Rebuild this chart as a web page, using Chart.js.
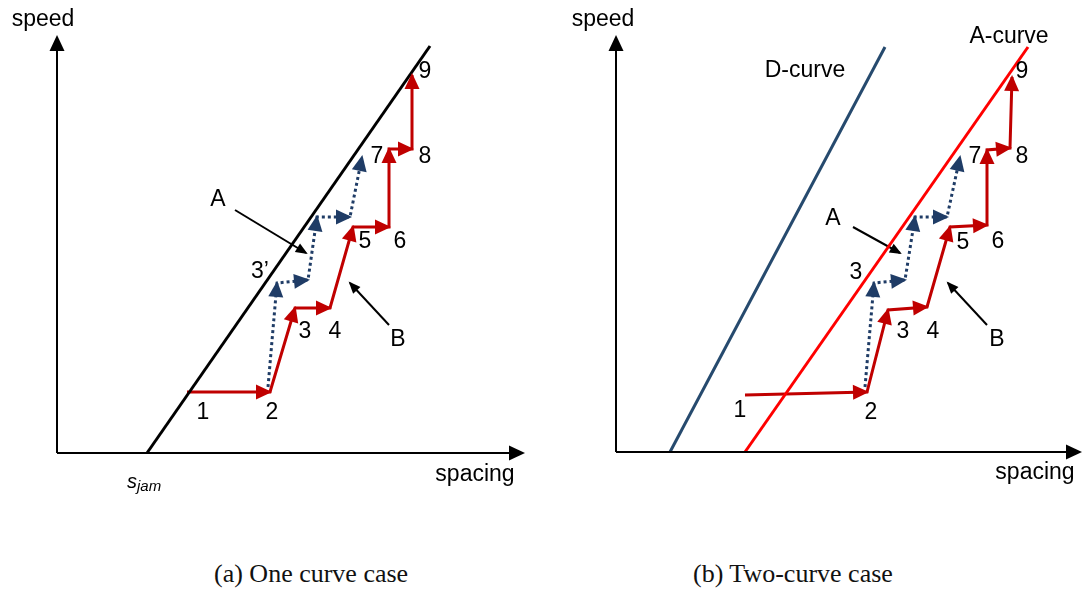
<!DOCTYPE html>
<html>
<head>
<meta charset="utf-8">
<title>Speed / spacing diagrams</title>
<script src="https://cdn.jsdelivr.net/npm/chart.js@4.4.1/dist/chart.umd.min.js"></script>
<style>
    body { margin: 0; background: #fff; }
    .wrap { position: relative; width: 1085px; height: 590px; overflow: hidden; }
    canvas { position: absolute; top: 0; }
    .caption {
        position: absolute; top: 559px; height: 30px; line-height: 30px;
        font-family: "Liberation Serif", "Times New Roman", serif; font-size: 26px; color: #111;
        white-space: nowrap;
    }
</style>
</head>
<body>
<div class="wrap">
    <canvas id="oneCurve" width="542" height="520" style="left:0"></canvas>
    <canvas id="twoCurve" width="543" height="520" style="left:542px"></canvas>
    <div class="caption" style="left:214px">(a) One curve case</div>
    <div class="caption" style="left:693px">(b) Two-curve case</div>
</div>

<script>
// Data in arbitrary (spacing, speed) units, origin at axes crossing

// (a) one curve case
const oneRedSpacing  = [130, 213, 238, 273, 296, 332, 332, 355, 355];
const oneRedSpeed    = [61, 61, 145, 145, 226, 226, 304, 304, 378];
const oneBlueSpacing = [211, 220, 251, 260, 293, 305];
const oneBlueSpeed   = [66, 170, 173, 236, 236, 296];
const oneCurveSpacing = [90, 373];
const oneCurveSpeed   = [0, 407];
const oneArrowA = [[178, 243], [249, 200]];
const oneArrowB = [[332, 128], [293, 170]];
const oneAxisLen = { spacing: 466, speed: 416 };
const oneLabels   = ['1', '2', "3\u2019", '3', '4', '5', '6', '7', '8', '9', 'A', 'B', 'speed', 'spacing'];
const oneLabelX   = [146, 215, 203, 248, 278, 308, 343, 320, 368, 368, 161, 341, -14, 418];
const oneLabelY   = [40, 40, 181, 121, 121, 211, 211, 296, 296, 381, 253, 113, 433, -22];

// (b) two-curve case
const twoRedSpacing  = [129, 251, 272, 311, 334, 371, 371, 394, 396];
const twoRedSpeed    = [57, 60, 142, 145, 225, 227, 302, 304, 375];
const twoBlueSpacing = [249, 258, 289, 299, 331, 344];
const twoBlueSpeed   = [65, 169, 172, 235, 235, 295];
const dCurveSpacing = [54, 269];
const dCurveSpeed   = [0, 405];
const aCurveSpacing = [129, 412];
const aCurveSpeed   = [0, 405];
const twoArrowA = [[237, 225], [284, 199]];
const twoArrowB = [[371, 127], [332, 169]];
const twoAxisLen = { spacing: 464, speed: 415 };
const twoLabels  = ['1', '2', '3', '3', '4', '5', '6', '7', '8', '9', 'A', 'B', 'D-curve', 'A-curve', 'speed', 'spacing'];
const twoLabelX  = [124, 255, 240, 287, 317, 347, 382, 359, 406, 406, 217, 381, 189, 393, -13, 419];
const twoLabelY  = [41, 39, 179, 120, 120, 209, 210, 295, 295, 380, 233, 112, 381, 415, 432, -21];

const RED = '#C00000';
const BLUE = '#1F3C66';
const FONT = '"Liberation Sans", Arial, sans-serif';

const toPoints = (xs, ys) => xs.map((x, i) => ({ x: x, y: ys[i] }));
const pairPoints = pair => pair.map(p => ({ x: p[0], y: p[1] }));

// draws a filled arrowhead at the end of every segment of datasets that ask for it
const arrowHeads = {
    id: 'arrowHeads',
    afterDatasetsDraw(chart) {
        const ctx = chart.ctx;
        chart.data.datasets.forEach((ds, di) => {
            if (!ds.head) return;
            const pts = chart.getDatasetMeta(di).data;
            ctx.save();
            ctx.fillStyle = ds.headColor || ds.borderColor;
            for (let i = 1; i < pts.length; i++) {
                const a = pts[i - 1], b = pts[i];
                const ang = Math.atan2(b.y - a.y, b.x - a.x);
                const tipX = b.x + Math.cos(ang) * 2, tipY = b.y + Math.sin(ang) * 2;
                const bx = tipX - Math.cos(ang) * ds.head.len, by = tipY - Math.sin(ang) * ds.head.len;
                const w = ds.head.width / 2;
                ctx.beginPath();
                ctx.moveTo(tipX, tipY);
                ctx.lineTo(bx - Math.sin(ang) * w, by + Math.cos(ang) * w);
                ctx.lineTo(bx + Math.sin(ang) * w, by - Math.cos(ang) * w);
                ctx.closePath();
                ctx.fill();
            }
            ctx.restore();
        });
    }
};

// text labels placed through the scales
const panelText = {
    id: 'panelText',
    afterDraw(chart, args, opts) {
        const ctx = chart.ctx;
        const xs = chart.scales.x, ys = chart.scales.y;
        ctx.save();
        ctx.fillStyle = '#000';
        ctx.textAlign = 'center';
        ctx.textBaseline = 'middle';
        ctx.font = '23px ' + FONT;
        (opts.labels || []).forEach((t, i) => {
            ctx.fillText(t, xs.getPixelForValue(opts.xs[i]), ys.getPixelForValue(opts.ys[i]));
        });
        if (opts.sjam) {
            const px = xs.getPixelForValue(opts.sjam[0]);
            const py = ys.getPixelForValue(opts.sjam[1]);
            ctx.textAlign = 'left';
            ctx.font = 'italic 20px ' + FONT;
            ctx.fillText('s', px, py);
            const w = ctx.measureText('s').width;
            ctx.font = 'italic 15px ' + FONT;
            ctx.fillText('jam', px + w, py + 5);
        }
        ctx.restore();
    }
};

function lineSet(points, color, width, extra) {
    return Object.assign({
        data: points,
        showLine: true,
        borderColor: color,
        backgroundColor: color,
        borderWidth: width,
        pointRadius: 0,
        tension: 0,
        fill: false
    }, extra || {});
}

function makePanel(id, ox, oy, w, h, datasets, text) {
    return new Chart(document.getElementById(id), {
        type: 'scatter',
        data: { datasets: datasets },
        options: {
            responsive: false,
            animation: false,
            events: [],
            layout: { padding: 0 },
            plugins: {
                legend: { display: false },
                tooltip: { enabled: false },
                panelText: text
            },
            scales: {
                x: { type: 'linear', display: false, min: -ox, max: w - ox },
                y: { type: 'linear', display: false, min: -(h - oy), max: oy }
            }
        },
        plugins: [arrowHeads, panelText]
    });
}

function axes(len) {
    const head = { len: 16, width: 15 };
    return [
        lineSet([{ x: 0, y: 0 }, { x: 0, y: len.speed }], '#000', 2, { head: head }),
        lineSet([{ x: 0, y: 0 }, { x: len.spacing, y: 0 }], '#000', 2, { head: head })
    ];
}

const redHead = { len: 16, width: 15 };
const blueHead = { len: 16, width: 15 };
const noteHead = { len: 12, width: 10 };

makePanel('oneCurve', 57, 453, 542, 520, [
    ...axes(oneAxisLen),
    lineSet(toPoints(oneCurveSpacing, oneCurveSpeed), '#000', 3),
    lineSet(toPoints(oneBlueSpacing, oneBlueSpeed), BLUE, 3, { borderDash: [3, 3], head: blueHead }),
    lineSet(toPoints(oneRedSpacing, oneRedSpeed), RED, 3, { head: redHead }),
    lineSet(pairPoints(oneArrowA), '#000', 2, { head: noteHead }),
    lineSet(pairPoints(oneArrowB), '#000', 2, { head: noteHead })
], { labels: oneLabels, xs: oneLabelX, ys: oneLabelY, sjam: [70, -29] });

makePanel('twoCurve', 74, 452, 543, 520, [
    ...axes(twoAxisLen),
    lineSet(toPoints(dCurveSpacing, dCurveSpeed), '#264A6E', 3),
    lineSet(toPoints(aCurveSpacing, aCurveSpeed), '#FF0000', 3),
    lineSet(toPoints(twoBlueSpacing, twoBlueSpeed), BLUE, 3, { borderDash: [3, 3], head: blueHead }),
    lineSet(toPoints(twoRedSpacing, twoRedSpeed), RED, 3, { head: redHead }),
    lineSet(pairPoints(twoArrowA), '#000', 2, { head: noteHead }),
    lineSet(pairPoints(twoArrowB), '#000', 2, { head: noteHead })
], { labels: twoLabels, xs: twoLabelX, ys: twoLabelY });
</script>
</body>
</html>
